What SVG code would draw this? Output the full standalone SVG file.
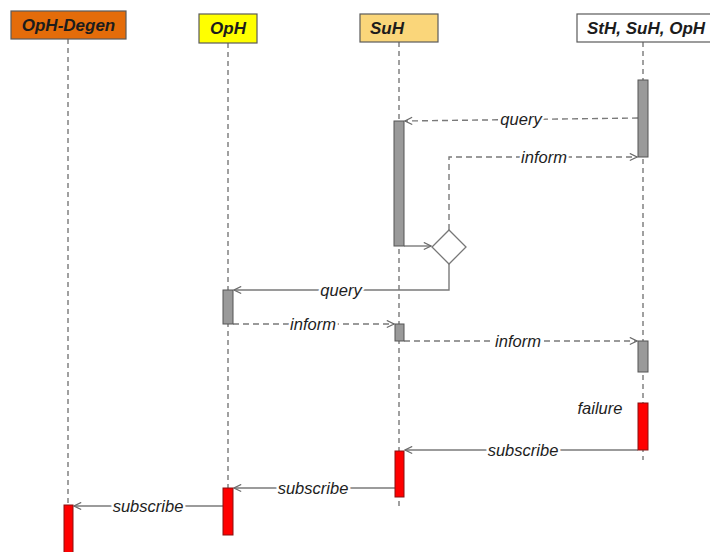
<svg xmlns="http://www.w3.org/2000/svg" width="710" height="552" viewBox="0 0 710 552">
  <style>
    .head { stroke: #5a5a5a; stroke-width: 1.2; }
    .htxt { font-family: "Liberation Sans", Arial, sans-serif; font-weight: bold; font-style: italic; font-size: 17px; fill: #1c1c1c; }
    .life { stroke: #6e6e6e; stroke-width: 1.3; stroke-dasharray: 5 4; fill: none; }
    .act { fill: #9a9a9a; stroke: #555; stroke-width: 1; }
    .red { fill: #ff0000; stroke: #8a1010; stroke-width: 1; }
    .msg { stroke: #7a7a7a; stroke-width: 1.4; fill: none; }
    .dash { stroke-dasharray: 6 4; }
    .lbl { font-family: "Liberation Sans", Arial, sans-serif; font-style: italic; font-size: 16.5px; fill: #1e1e1e; text-anchor: middle; paint-order: stroke; stroke: #fff; stroke-width: 5; }
  </style>
  <defs>
    <marker id="open" viewBox="0 0 10 10" refX="9" refY="5" markerWidth="9" markerHeight="9" markerUnits="userSpaceOnUse" orient="auto">
      <path d="M1 1 L9 5 L1 9" fill="none" stroke="#6a6a6a" stroke-width="1.3"/>
    </marker>
  </defs>
  <rect width="710" height="552" fill="#fff"/>

  <!-- lifelines -->
  <g id="lifelines">
    <line class="life" x1="68" y1="39" x2="68" y2="505"/>
    <line class="life" x1="228" y1="43" x2="228" y2="488"/>
    <line class="life" x1="399" y1="42" x2="399" y2="508"/>
    <line class="life" x1="643" y1="42" x2="643" y2="460"/>
  </g>

  <!-- participants -->
  <g id="opH-degen">
    <rect class="head" x="11" y="11" width="115" height="28" fill="#e46c0a"/>
    <text class="htxt" x="68.5" y="31" text-anchor="middle">OpH-Degen</text>
  </g>
  <g id="opH">
    <rect class="head" x="199" y="14" width="58" height="29" fill="#ffff00"/>
    <text class="htxt" x="228" y="34" text-anchor="middle">OpH</text>
  </g>
  <g id="suH">
    <rect class="head" x="360" y="14" width="78" height="28" fill="#fad67a"/>
    <text class="htxt" x="370" y="34">SuH</text>
  </g>
  <g id="group">
    <rect class="head" x="577" y="14" width="140" height="28" fill="#ffffff"/>
    <text class="htxt" x="587" y="34">StH, SuH, OpH</text>
  </g>

  <!-- decision -->
  <g id="decision">
    <path d="M449 230 L466 247 L449 264 L432 247 Z" fill="#fff" stroke="#777" stroke-width="1.3"/>
  </g>

  <!-- messages -->
  <g id="connectors">
    <path class="msg dash" d="M638 118 L405 121" marker-end="url(#open)"/>
    <text class="lbl" x="521" y="125">query</text>

    <path class="msg dash" d="M449 230 L449 157 L637 157" marker-end="url(#open)"/>
    <text class="lbl" x="544" y="163">inform</text>

    <path class="msg" d="M404 246 L431 246" marker-end="url(#open)"/>

    <path class="msg" d="M449 264 L449 290 L234 290" marker-end="url(#open)"/>
    <text class="lbl" x="341" y="296">query</text>

    <path class="msg dash" d="M233 324 L394 324" marker-end="url(#open)"/>
    <text class="lbl" x="313" y="330">inform</text>

    <path class="msg dash" d="M404 341 L637 341" marker-end="url(#open)"/>
    <text class="lbl" x="518" y="347">inform</text>

    <path class="msg" d="M638 450 L405 450" marker-end="url(#open)"/>
    <text class="lbl" x="523" y="456">subscribe</text>

    <path class="msg" d="M395 488 L234 488" marker-end="url(#open)"/>
    <text class="lbl" x="313" y="494">subscribe</text>

    <path class="msg" d="M223 506 L74 506" marker-end="url(#open)"/>
    <text class="lbl" x="148" y="512">subscribe</text>

    <text class="lbl" x="600" y="414">failure</text>
  </g>

  <!-- activations -->
  <g id="activations">
    <rect class="act" x="638" y="80" width="10" height="77"/>
    <rect class="act" x="394" y="121" width="10" height="125"/>
    <rect class="act" x="223" y="290" width="10" height="34"/>
    <rect class="act" x="395" y="324" width="9" height="17"/>
    <rect class="act" x="638" y="341" width="10" height="31"/>
    <rect class="red" x="638" y="403" width="10" height="47"/>
    <rect class="red" x="395" y="451" width="9" height="46"/>
    <rect class="red" x="223" y="488" width="10" height="47"/>
    <rect class="red" x="64" y="505" width="9" height="50"/>
  </g>
</svg>
